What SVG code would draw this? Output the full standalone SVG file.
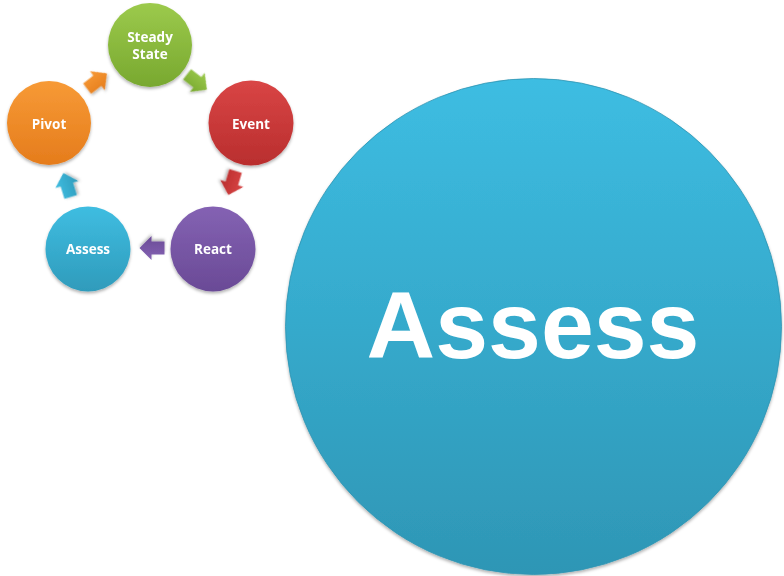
<svg xmlns="http://www.w3.org/2000/svg" width="784" height="576" viewBox="0 0 784 576">
<defs>
<linearGradient id="gGreen" x1="0" y1="0" x2="0" y2="1"><stop offset="0" stop-color="#9cca4c"/><stop offset="1" stop-color="#78a82f"/></linearGradient>
<linearGradient id="gRed" x1="0" y1="0" x2="0" y2="1"><stop offset="0" stop-color="#d94545"/><stop offset="1" stop-color="#b92e2e"/></linearGradient>
<linearGradient id="gPurple" x1="0" y1="0" x2="0" y2="1"><stop offset="0" stop-color="#8462b3"/><stop offset="1" stop-color="#6a4a96"/></linearGradient>
<linearGradient id="gBlue" x1="0" y1="0" x2="0" y2="1"><stop offset="0" stop-color="#3fbde1"/><stop offset="1" stop-color="#2f9bbb"/></linearGradient>
<linearGradient id="gOrange" x1="0" y1="0" x2="0" y2="1"><stop offset="0" stop-color="#f79a36"/><stop offset="1" stop-color="#e57c1c"/></linearGradient>
<linearGradient id="gBig" x1="0" y1="0" x2="0" y2="1"><stop offset="0" stop-color="#3dbde2"/><stop offset="1" stop-color="#2e96b5"/></linearGradient>
<filter id="sh" x="-20%" y="-20%" width="140%" height="150%"><feDropShadow dx="0" dy="2" stdDeviation="1.8" flood-color="#000" flood-opacity="0.3"/></filter>
<path id="arr" d="M-12.5,-6.5 L0.5,-6.5 L0.5,-12 L12.5,0 L0.5,12 L0.5,6.5 L-12.5,6.5 Z"/>
</defs>
<style>
.lbl{font-family:"Open Sans","Liberation Sans",sans-serif;font-weight:bold;font-size:13.5px;fill:#fff;text-anchor:middle}
.big{font-family:"Liberation Sans",Arial,sans-serif;font-weight:bold;font-size:95px;fill:#fff;text-anchor:middle}
.node{filter:url(#sh)}
</style>
<rect width="784" height="576" fill="#fff"/>
<g id="connectors">
<use href="#arr" transform="translate(197,82) rotate(37.7)" fill="url(#gGreen)" filter="url(#sh)"/>
<use href="#arr" transform="translate(232,183) rotate(106.8)" fill="url(#gRed)" filter="url(#sh)"/>
<use href="#arr" transform="translate(152,248) rotate(180)" fill="url(#gPurple)" filter="url(#sh)"/>
<use href="#arr" transform="translate(67,185) rotate(-107)" fill="url(#gBlue)" filter="url(#sh)"/>
<use href="#arr" transform="translate(97,81) rotate(-37.7)" fill="url(#gOrange)" filter="url(#sh)"/>
</g>
<g id="steady" class="node"><circle cx="150" cy="45" r="42" fill="url(#gGreen)"/><text class="lbl" x="150" y="41.5">Steady</text><text class="lbl" x="150" y="59">State</text></g>
<g id="event" class="node"><circle cx="251" cy="123" r="42.5" fill="url(#gRed)"/><text class="lbl" x="251" y="128.5">Event</text></g>
<g id="react" class="node"><circle cx="213" cy="249" r="42.5" fill="url(#gPurple)"/><text class="lbl" x="213" y="254">React</text></g>
<g id="assess" class="node"><circle cx="88" cy="249" r="42.5" fill="url(#gBlue)"/><text class="lbl" x="88" y="254">Assess</text></g>
<g id="pivot" class="node"><circle cx="49" cy="123" r="42" fill="url(#gOrange)"/><text class="lbl" x="49" y="128.5">Pivot</text></g>
<g id="assess-big" class="node"><circle cx="533.5" cy="326.5" r="248" fill="url(#gBig)" stroke="#2e94b3" stroke-width="0.8"/><text class="big" x="533" y="358">Assess</text></g>
</svg>
